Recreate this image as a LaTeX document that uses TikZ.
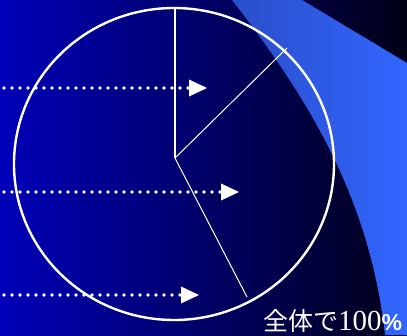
\documentclass[tikz,border=0pt]{standalone}
\usepackage{fontspec}
\setmainfont{Liberation Serif}
\newfontfamily\jpfont{Noto Sans CJK JP}
\newfontfamily\pctfont{Liberation Sans}
\definecolor{bgleft}{RGB}{0,0,185}
\definecolor{bgright}{RGB}{0,0,22}
\definecolor{swL}{RGB}{42,78,200}
\definecolor{swR}{RGB}{50,102,255}
\tikzset{
  dotline/.style={white, line width=3.6pt, line cap=round, dash pattern=on 0pt off 8pt},
  headtri/.style={fill=white, draw=none},
  pieline/.style={white, line width=1pt},
}
\begin{document}
\begin{tikzpicture}[x=1pt,y=-1pt]
\useasboundingbox (0,0) rectangle (407,335);
% background
\shade[left color=bgleft, right color=bgright] (0,0) rectangle (407,335);
% swoosh
\shade[left color=swL, right color=swR]
  (232,0) .. controls (310,100) and (370,200) .. (385,335)
  -- (407,335) -- (407,63) -- (302,0) -- cycle;
% circle
\draw[white, line width=2.4pt] (174,164) ellipse [x radius=160, y radius=156];
% pie lines
\coordinate (c) at (175,158);
\coordinate (top) at (175,8);
\coordinate (ne) at (287,48);
\coordinate (se) at (247,297);
\draw[white, line width=2.3pt] (c) -- (top);
\draw[pieline] (c) -- (ne);
\draw[pieline] (c) -- (se);
% arrows
\coordinate (a1s) at (4,88);  \coordinate (a1e) at (189,88);
\coordinate (a2s) at (4,192); \coordinate (a2e) at (221,192);
\coordinate (a3s) at (4,295); \coordinate (a3e) at (181,295);
\draw[dotline] (a1s) -- (a1e);
\draw[dotline] (a2s) -- (a2e);
\draw[dotline] (a3s) -- (a3e);
\fill[headtri] (a1e) ++(0,-8.5) -- ++(18,8.5) -- ++(-18,8.5) -- cycle;
\fill[headtri] (a2e) ++(0,-8.5) -- ++(18,8.5) -- ++(-18,8.5) -- cycle;
\fill[headtri] (a3e) ++(0,-8.5) -- ++(18,8.5) -- ++(-18,8.5) -- cycle;
% label
\node[anchor=base west, inner sep=0pt, text=white] (lbl) at (263,330)
  {{\jpfont\fontsize{25}{28}\selectfont 全体で}{\fontsize{29}{30}\selectfont 100}{\pctfont\bfseries\fontsize{23}{28}\selectfont \%}};
\end{tikzpicture}
\end{document}
